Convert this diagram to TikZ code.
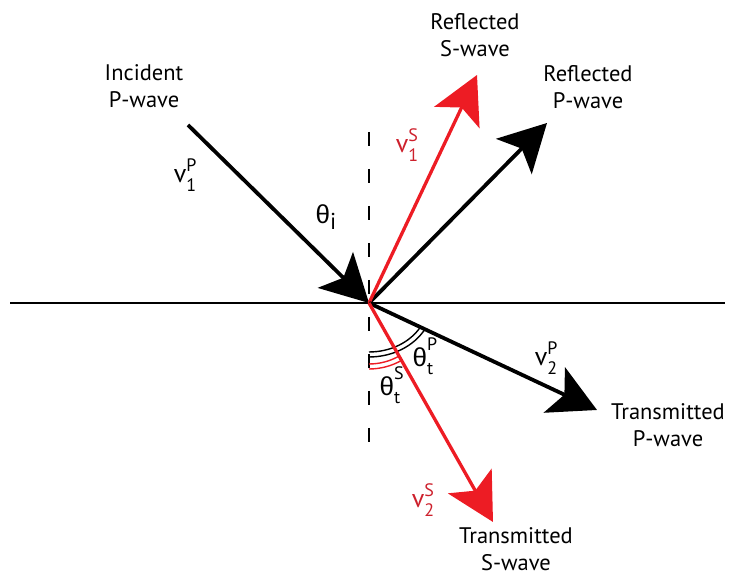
\documentclass[tikz,border=0pt]{standalone}
\usepackage{fontspec}
\setmainfont{PT Sans}
\newfontfamily\grk{Liberation Sans}
\usepackage{xcolor}
\usetikzlibrary{arrows.meta}

\definecolor{swave}{RGB}{237,28,36}
\definecolor{slabel}{RGB}{205,32,44}

\newcommand{\scr}{\fontsize{18}{18}\selectfont}
\newcommand{\vsym}[2]{v\makebox[0pt][l]{\raisebox{11pt}{\scr #1}}\raisebox{-9pt}{\scr #2}}
\newcommand{\tsym}[2]{{\grk θ}\makebox[0pt][l]{\raisebox{16pt}{\scr #1}}\raisebox{-8pt}{\scr #2}}

\begin{document}
\begin{tikzpicture}[
  x=1pt, y=1pt,
  >={Stealth[length=47pt, width=50pt, inset=11pt]},
  wave/.style={->, line width=3.8pt},
  swave/.style={->, draw=swave, line width=3.3pt},
  interface/.style={line width=1.8pt},
  normal/.style={line width=1.6pt, dash pattern=on 14pt off 23pt},
  angarc/.style={line width=1.4pt},
  lbl/.style={align=center, inner sep=0pt, font=\fontsize{22.5}{27}\selectfont},
  sym/.style={inner sep=0pt, font=\fontsize{26}{26}\selectfont}
]
\useasboundingbox (0,0) rectangle (729,577);

% interface and normal
\coordinate (O) at (369,274);
\coordinate (wL) at (10,274);
\coordinate (wR) at (725,274);
\coordinate (nTop) at (369,445);
\coordinate (nBot) at (369,115);
\draw[interface] (wL) -- (wR);
\draw[normal] (nTop) -- (nBot);

% wave ends
\coordinate (inc) at (188,452);
\coordinate (rP) at (547,454);
\coordinate (rS) at (477,502);
\coordinate (tP) at (597,167);
\coordinate (tS) at (493,55);

% angles
\draw[angarc] ([yshift=-49pt]O) arc[start angle=-90, end angle=-29.4, x radius=59, y radius=49];
\draw[angarc] ([yshift=-54pt]O) arc[start angle=-90, end angle=-29.0, x radius=64, y radius=54];
\draw[angarc, draw=swave] ([yshift=-61pt]O) arc[start angle=-90, end angle=-60.5, radius=61];
\draw[angarc, draw=swave] ([yshift=-66pt]O) arc[start angle=-90, end angle=-60.5, radius=66];

% rays
\draw[wave] (inc) -- (O);
\draw[wave] (O) -- (rP);
\draw[swave] (O) -- (rS);
\draw[wave] (O) -- (tP);
\draw[swave] (O) -- (tS);

% labels
\node[lbl] (incLbl) at (144,491) {Incident\\P-wave};
\node[lbl] (rSLbl) at (475,542) {Reflected\\S-wave};
\node[lbl] (rPLbl) at (588,490) {Reflected\\P-wave};
\node[lbl] (tPLbl) at (668,152) {Transmitted\\P-wave};
\node[lbl] (tSLbl) at (516,28) {Transmitted\\S-wave};

\node[sym] (v1P) at (185,402) {\vsym{P}{1}};
\node[sym] (thI) at (326,360) {{\grk θ}\raisebox{-6pt}{\fontsize{23}{23}\selectfont i}};
\node[sym, text=slabel] (v1S) at (407,432) {\vsym{S}{1}};
\node[sym] (thP) at (423,221) {\tsym{P}{t}};
\node[sym] (thS) at (390,192) {\tsym{S}{t}};
\node[sym] (v2P) at (546,219) {\vsym{P}{2}};
\node[sym, text=slabel] (v2S) at (423,77) {\vsym{S}{2}};
\end{tikzpicture}
\end{document}
